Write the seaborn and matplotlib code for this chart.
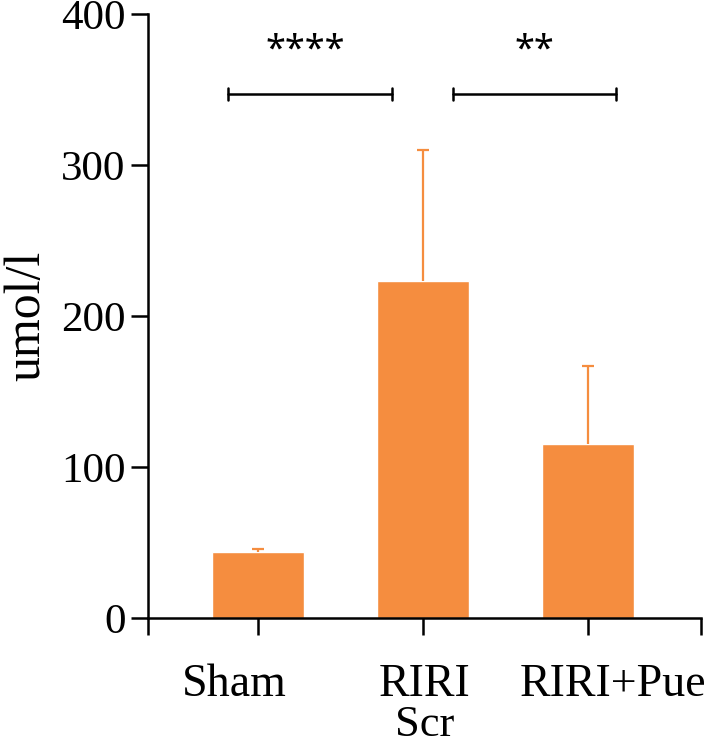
import matplotlib
matplotlib.use("Agg")
import matplotlib.pyplot as plt
import matplotlib.transforms as mtransforms
import seaborn as sns
import pandas as pd
import numpy as np

groups = ["Sham", "RIRI", "RIRI+Pue"]
means = [44, 223, 115]
errs = [2, 87, 52]
tick_labels = ["Sham", "RIRI", "RIRI+Pue"]
xlabel = "Scr"
ylabel = "umol/l"
yticks = [0, 100, 200, 300, 400]
comparisons = [(-0.18, 0.81, "****"), (1.185, 2.17, "**")]
bracket_y = 347
star_y = 370

sns.set_theme(style="ticks")
plt.rcParams['font.family'] = ['Liberation Serif', 'DejaVu Serif']

color = "#F58D3F"
df = pd.DataFrame({"group": groups, "value": means})

fig = plt.figure(figsize=(7.08, 7.54), dpi=100)
ax = fig.add_axes([0.209, 0.1804, 0.781, 0.801])
sns.barplot(data=df, x="group", y="value", color=color, saturation=1,
            width=0.56, ax=ax, errorbar=None)
xpos = np.arange(len(groups))
tops = np.array(means) + np.array(errs)
ax.vlines(xpos, means, tops, color=color, lw=1.6)
ax.hlines(tops, xpos - 0.035, xpos + 0.035, color=color, lw=1.6)

ax.set_xlim(-0.667, 2.685)
ax.set_ylim(0, 400)
ax.set_yticks(yticks)
ax.set_xticks(range(len(groups)))
ax.set_xticklabels(tick_labels)
ax.set_xticks([-0.667, 2.685], minor=True)
ax.tick_params(axis="x", which="minor", length=12, width=1.8, color="black")
ax.tick_params(axis="both", which="major", length=12, width=1.8, color="black",
               labelcolor="black", pad=4)
ax.tick_params(axis="y", which="major", labelsize=31)
ax.tick_params(axis="x", which="major", labelsize=33, pad=21)
# label nudges seen in the reference (in points)
nudges = [-17, 1, 18]
for lab, dx in zip(ax.get_xticklabels(), nudges):
    lab.set_transform(lab.get_transform() +
                      mtransforms.ScaledTranslation(dx / 72, 0, fig.dpi_scale_trans))
sns.despine(ax=ax)
for s in ["left", "bottom"]:
    ax.spines[s].set_linewidth(1.8)
    ax.spines[s].set_color("black")
ax.set_xlabel(xlabel, fontsize=32, color="black", labelpad=-1)
ax.set_ylabel(ylabel, fontsize=36, color="black", labelpad=8)

star_dx = [-0.03, 0.0]
for (x1, x2, txt), dx in zip(comparisons, star_dx):
    ax.plot([x1, x2], [bracket_y, bracket_y], color="black", lw=1.8, clip_on=False)
    ax.plot([x1, x1], [bracket_y - 4, bracket_y + 4], color="black", lw=1.8)
    ax.plot([x2, x2], [bracket_y - 4, bracket_y + 4], color="black", lw=1.8)
    ax.text((x1 + x2) / 2 + dx, star_y, txt, ha="center", va="baseline", fontsize=26,
            family=["Noto Sans"], color="black")

fig.savefig("out.png", dpi=100)
